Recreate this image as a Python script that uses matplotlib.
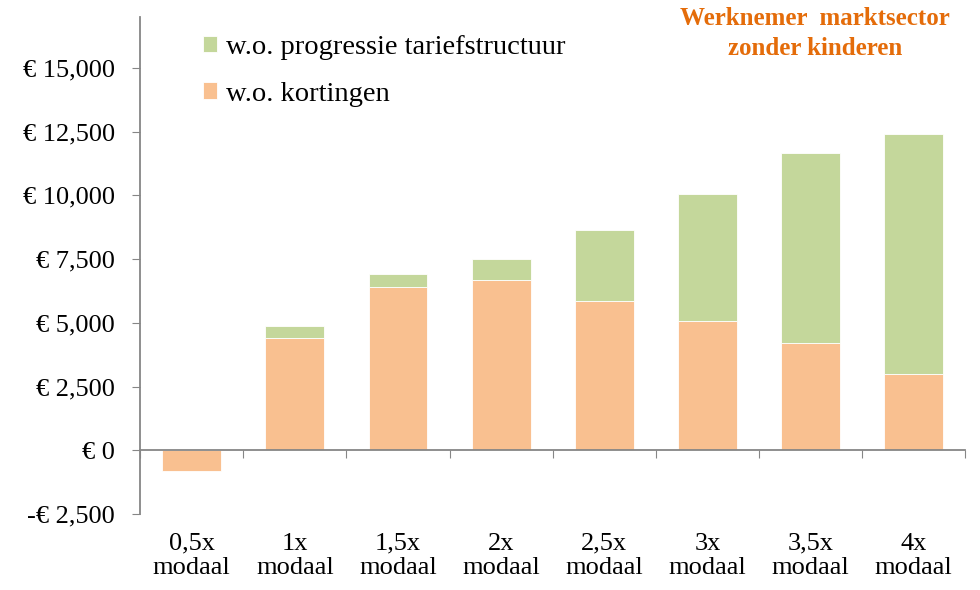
import numpy as np
import matplotlib
matplotlib.use("Agg")
import matplotlib.pyplot as plt
from matplotlib.ticker import FuncFormatter, FixedLocator
from matplotlib.transforms import blended_transform_factory

# data
categories = ["0,5x\nmodaal", "1x\nmodaal", "1,5x\nmodaal", "2x\nmodaal",
              "2,5x\nmodaal", "3x\nmodaal", "3,5x\nmodaal", "4x\nmodaal"]
kortingen = [-820, 4390, 6390, 6700, 5840, 5060, 4190, 2980]
progressie = [0, 470, 545, 820, 2820, 5010, 7480, 9440]
y_ticks = [-2500, 0, 2500, 5000, 7500, 10000, 12500, 15000]

plt.rcParams["font.family"] = ["Liberation Serif", "DejaVu Serif"]

fig = plt.figure(figsize=(9.8, 5.9), dpi=100)
ax = fig.add_axes([0.143, 0.129, 0.842, 0.842])

x = np.arange(len(categories))
ax.bar(x, kortingen, width=0.57, color="#F9C090", edgecolor="white", linewidth=0.6,
       label="w.o. kortingen", zorder=2)
ax.bar(x, progressie, width=0.57, bottom=np.maximum(kortingen, 0), color="#C4D79B",
       edgecolor="white", linewidth=0.6, label="w.o. progressie tariefstructuur", zorder=2)

ax.set_xlim(-0.5, len(categories) - 0.5)
ax.set_ylim(-2500, 17000)
ax.yaxis.set_major_locator(FixedLocator(y_ticks))

def euro(v, pos):
    if v < 0:
        return "-€ {:,.0f}".format(-v)
    return "€ {:,.0f}".format(v)

ax.yaxis.set_major_formatter(FuncFormatter(euro))
ax.tick_params(axis="y", direction="out", length=6, color="#868686", labelsize=19, pad=12)

for s in ["top", "right"]:
    ax.spines[s].set_visible(False)
ax.spines["left"].set_color("#868686")
ax.spines["left"].set_linewidth(1.3)
ax.spines["bottom"].set_position(("data", 0))
ax.spines["bottom"].set_color("#868686")
ax.spines["bottom"].set_linewidth(1.3)

# tick marks between categories, labels placed under the plot
ax.set_xticks(np.arange(len(categories) + 1) - 0.5)
ax.set_xticklabels([])
ax.tick_params(axis="x", direction="out", length=6, color="#868686")
trans = blended_transform_factory(ax.transData, ax.transAxes)
for xi, lab in zip(x, categories):
    ax.text(xi, -0.038, lab, transform=trans, ha="center", va="top",
            fontsize=19, linespacing=1.15)

handles, labels = ax.get_legend_handles_labels()
ax.legend(handles[::-1], labels[::-1], loc="upper left", bbox_to_anchor=(0.045, 1.015),
          frameon=False, fontsize=20.5, handlelength=0.5, handleheight=0.5,
          handletextpad=0.3, labelspacing=0.75)

fig.text(0.832, 0.988, "Werknemer  marktsector\nzonder kinderen", ha="center", va="top",
         color="#E46C0A", fontsize=18, fontweight="bold", linespacing=1.4)

fig.savefig("out.png", dpi=100)
